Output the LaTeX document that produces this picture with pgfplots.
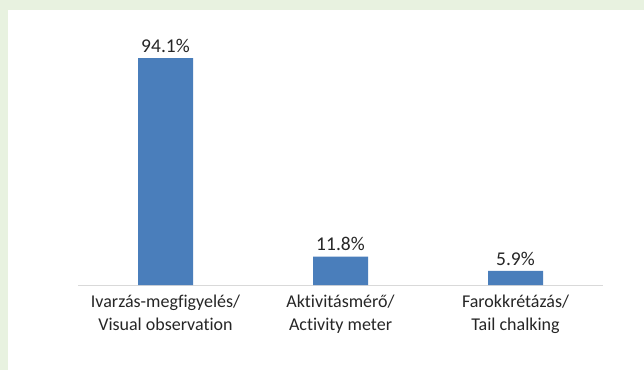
\documentclass[border=0pt]{standalone}
\usepackage{pgfplots}
\pgfplotsset{compat=1.18}
\usepackage{fontspec}
\setmainfont{Carlito}[Ligatures={NoCommon,NoRare,NoContextual}]
\definecolor{bgGreen}{HTML}{E8F2E0}
\definecolor{barBlue}{HTML}{4A7EBB}
\definecolor{txt}{HTML}{262626}
\definecolor{axisGray}{HTML}{D9D9D9}
\begin{document}
\begin{tikzpicture}[x=1pt,y=1pt]
\path[use as bounding box] (0,0) rectangle (644,370);
\fill[bgGreen] (0,0) rectangle (644,370);
\fill[white] (8,0) rectangle (644,360);
\begin{axis}[
  at={(78pt,85pt)}, anchor=south west,
  scale only axis, width=525pt, height=241pt,
  xmin=-0.5, xmax=2.5, ymin=0, ymax=100,
  axis x line*=bottom, axis y line=none,
  x axis line style={draw=axisGray, line width=1pt, -},
  ybar, bar width=55pt,
  xtick={0,1,2}, major tick length=0pt,
  xticklabels={{Ivarzás-megfigyelés/\\Visual observation},{Aktivitásmérő/\\Activity meter},{Farokkrétázás/\\Tail chalking}},
  xticklabel style={align=center, text=txt, font=\fontsize{18}{23}\selectfont, inner sep=0pt, yshift=-10pt},
  nodes near coords={\pgfmathprintnumber[fixed, fixed zerofill, precision=1, assume math mode=true]{\pgfplotspointmeta}\%},
  every node near coord/.append style={text=txt, font=\fontsize{19.5}{23}\selectfont, yshift=2pt},
  clip=false,
]
\addplot[fill=barBlue, draw=none] coordinates {(0,94.1) (1,11.8) (2,5.9)};
\end{axis}
\end{tikzpicture}
\end{document}
